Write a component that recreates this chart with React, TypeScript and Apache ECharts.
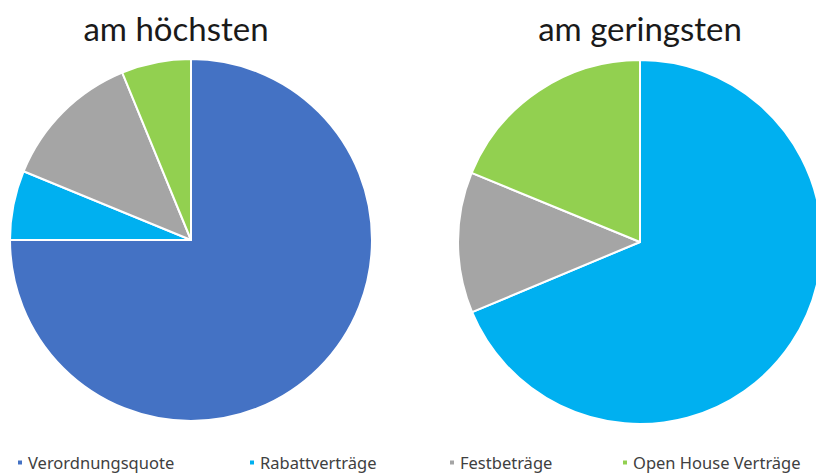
import React, { useEffect, useRef } from "react";
import * as echarts from "echarts";

const categories = ["Verordnungsquote", "Rabattverträge", "Festbeträge", "Open House Verträge"];
const colors = ["#4472C4", "#00B0F0", "#A5A5A5", "#92D050"];
const highestValues = [75.0, 6.2, 12.6, 6.2];
const lowestValues = [0, 68.7, 12.5, 18.8];
const titles = ["am höchsten", "am geringsten"];

export default function App() {
  const ref = useRef<HTMLDivElement>(null);
  useEffect(() => {
    document.body.style.margin = "0";
    const chart = echarts.init(ref.current!, null, { renderer: "svg" });
    const legendLefts = [16, 248, 448, 621];
    const titleStyle = { fontFamily: "Lato", fontSize: 33, fontWeight: "normal", color: "#1a1a1a" };
    const option = {
      animation: false,
      color: colors,
      title: [
        { text: titles[0], left: 176, top: 11, padding: 0, textAlign: "center", textStyle: titleStyle },
        { text: titles[1], left: 640, top: 11, padding: 0, textAlign: "center", textStyle: titleStyle },
      ],
      legend: categories.map((c, i) => ({
        data: [c],
        left: legendLefts[i],
        top: 454,
        padding: 0,
        icon: "rect",
        itemWidth: 6,
        itemHeight: 6,
        itemGap: 0,
        selectedMode: false,
        textStyle: { fontFamily: "Noto Sans", fontSize: 16.5, color: "#404040", padding: [0, 0, 0, 0] },
      })),
      series: [
        {
          type: "pie",
          center: [191, 240],
          radius: 181,
          startAngle: 90,
          clockwise: true,
          label: { show: false },
          labelLine: { show: false },
          emphasis: { disabled: true },
          itemStyle: { borderColor: "#ffffff", borderWidth: 2 },
          data: categories.map((c, i) => ({ name: c, value: highestValues[i] })),
        },
        {
          type: "pie",
          center: [640, 242],
          radius: 182,
          startAngle: 90,
          clockwise: true,
          label: { show: false },
          labelLine: { show: false },
          emphasis: { disabled: true },
          itemStyle: { borderColor: "#ffffff", borderWidth: 2 },
          data: categories.map((c, i) => ({ name: c, value: lowestValues[i] })),
        },
      ],
    };
    chart.setOption(option as any);
    return () => chart.dispose();
  }, []);
  return <div ref={ref} style={{ width: 816, height: 473 }} />;
}
